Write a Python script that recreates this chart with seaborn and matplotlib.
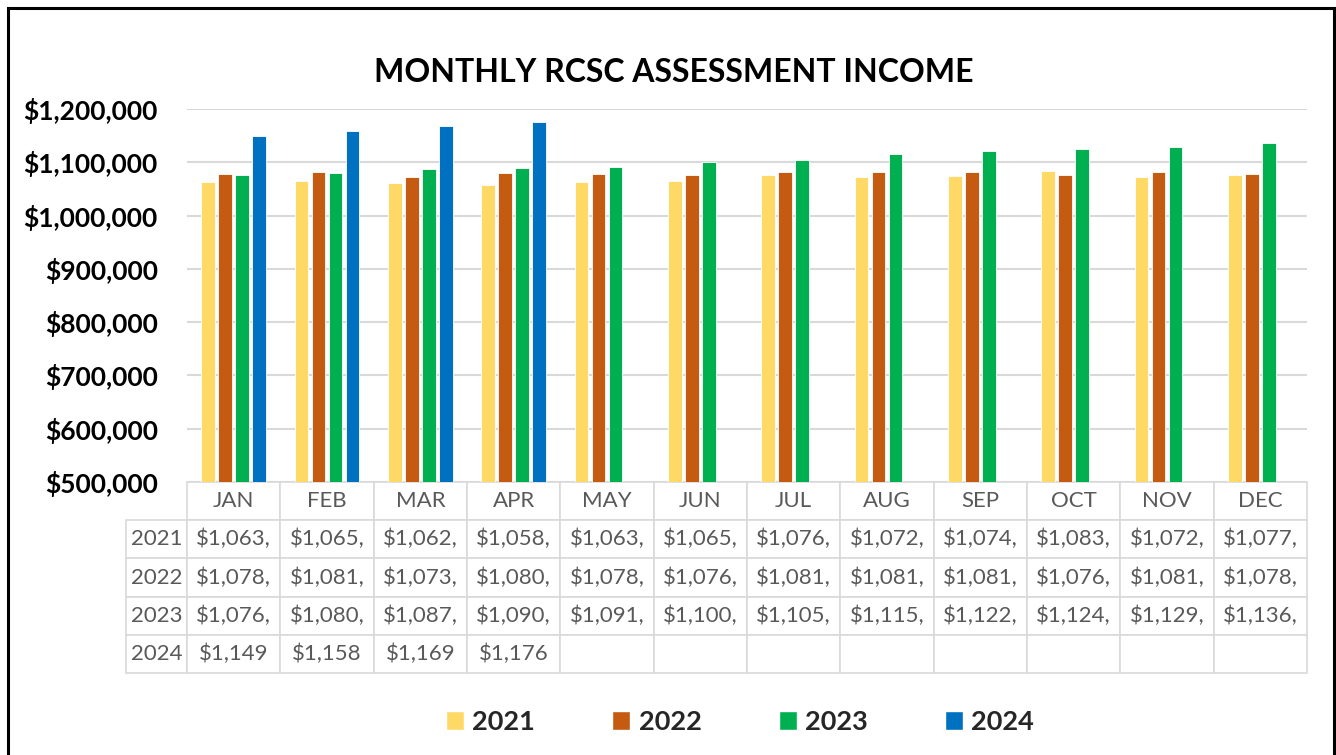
import pandas as pd
import matplotlib.pyplot as plt
import seaborn as sns
from matplotlib.patches import Patch, Rectangle

# monthly assessment income, dollars
months = ['JAN', 'FEB', 'MAR', 'APR', 'MAY', 'JUN', 'JUL', 'AUG', 'SEP', 'OCT', 'NOV', 'DEC']
years = ['2021', '2022', '2023', '2024']
inc_2021 = [1063000, 1065000, 1062000, 1058000, 1063000, 1065000, 1076000, 1072000, 1074000, 1083000, 1072000, 1077000]
inc_2022 = [1078000, 1081000, 1073000, 1080000, 1078000, 1076000, 1081000, 1081000, 1081000, 1076000, 1081000, 1078000]
inc_2023 = [1076000, 1080000, 1087000, 1090000, 1091000, 1100000, 1105000, 1115000, 1122000, 1124000, 1129000, 1136000]
inc_2024 = [1149000, 1158000, 1169000, 1176000]
colors = ['#FFD966', '#C55A11', '#00B050', '#0070C0']

# excel clips the numbers in the narrow table cells
clip = {'2021': 7, '2022': 7, '2023': 7, '2024': 6}

series = dict(zip(years, [inc_2021, inc_2022, inc_2023, inc_2024]))
rows = []
for yr, vals in series.items():
    for m, v in zip(months, vals):
        rows.append({'month': m, 'year': yr, 'income': v})
df = pd.DataFrame(rows)

sns.set_theme(style='white')
plt.rcParams['font.family'] = ['Lato', 'DejaVu Sans']

fig = plt.figure(figsize=(13.36, 7.55), dpi=100)
ax = fig.add_axes([187 / 1336, 1 - 482 / 755, 1120 / 1336, 373 / 755])

sns.barplot(data=df, x='month', y='income', hue='year', order=months, hue_order=years,
            palette=colors, saturation=1, width=0.73, gap=0.2, ax=ax,
            edgecolor='white', linewidth=0.6, legend=False)

ax.set_ylim(500000, 1200000)
ax.set_yticks(range(500000, 1200001, 100000))
ax.set_yticklabels([f'${v:,}' for v in range(500000, 1200001, 100000)],
                   fontsize=19, fontweight='bold', color='black')
ax.tick_params(axis='y', length=0, pad=21)
ax.set_xticks([])
ax.set_xlabel('')
ax.set_ylabel('')
ax.grid(axis='y', color='#D9D9D9', linewidth=1.5)
ax.set_axisbelow(True)
for s in ax.spines.values():
    s.set_visible(False)

# data table under the bars, first column holds the year labels
cell_text = []
for yr in years:
    vals = series[yr]
    row = [f'${v:,.0f}'[:clip[yr]] for v in vals] + [''] * (len(months) - len(vals))
    cell_text.append([yr] + row)

lab_w = 61 / 1120
tbl = ax.table(cellText=cell_text, colLabels=[''] + months, cellLoc='center',
               colWidths=[lab_w] + [1 / 12] * 12,
               bbox=[-lab_w, -191 / 373, 1 + lab_w, 191 / 373])
tbl.auto_set_font_size(False)
tbl.set_fontsize(16)
for (r, c), cell in tbl.get_celld().items():
    cell.set_edgecolor('#D9D9D9')
    cell.set_linewidth(1.2)
    cell.get_text().set_color('#595959')
    if r == 0 and c == 0:
        cell.set_visible(False)

fig.text(674 / 1336, 1 - 72 / 755, 'MONTHLY RCSC ASSESSMENT INCOME',
         ha='center', va='center', fontsize=23, fontweight='bold', color='black')

handles = [Patch(facecolor=c, label=y) for c, y in zip(colors, years)]
fig.legend(handles=handles, loc='center', bbox_to_anchor=(740 / 1336, 1 - 722 / 755), ncol=4,
           frameon=False, prop={'size': 19.5, 'weight': 'bold'},
           handlelength=0.67, handleheight=0.67, handletextpad=0.3, columnspacing=2.85)

# outer black frame
fig.patches.append(Rectangle((8 / 1336, -0.02), 1326 / 1336, 1 - 8 / 755 + 0.02,
                             transform=fig.transFigure, fill=False,
                             edgecolor='black', linewidth=2.2))

fig.savefig('out.png', dpi=100)
